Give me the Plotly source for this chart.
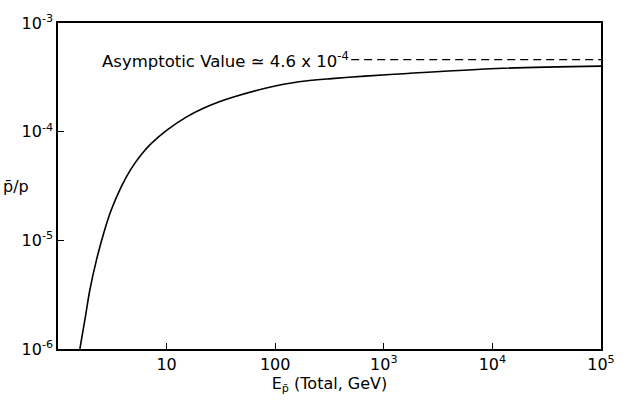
import plotly.graph_objects as go

# Curve: total antiproton energy (GeV) vs pbar/p ratio
energy_gev = [1.59, 1.770, 1.968, 2.265, 2.692, 3.097, 3.819, 4.710, 5.808, 7.161,
              10.14, 15.42, 21.83, 30.55, 40.64, 82.8, 165.2, 329.6, 671.4, 1652,
              10870, 100000]
pbar_ratio = [1.0e-6, 1.87e-6, 3.53e-6, 6.65e-6, 1.253e-5, 1.914e-5, 3.11e-5, 4.55e-5,
              6.11e-5, 7.71e-5, 1.037e-4, 1.374e-4, 1.641e-4, 1.884e-4, 2.075e-4,
              2.518e-4, 2.877e-4, 3.076e-4, 3.243e-4, 3.428e-4, 3.811e-4, 4.009e-4]

asymptote_value = 4.6e-4
asymptote_x = [501, 100000]

x_tickvals = [10, 100, 1e3, 1e4, 1e5]
x_ticktext = ["10", "100", "10<sup>3</sup>", "10<sup>4</sup>", "10<sup>5</sup>"]
y_tickvals = [1e-6, 1e-5, 1e-4, 1e-3]
y_ticktext = ["10<sup>-6</sup>", "10<sup>-5</sup>", "10<sup>-4</sup>", "10<sup>-3</sup>"]

FONT = "DejaVu Sans"

fig = go.Figure()
fig.add_trace(go.Scatter(x=energy_gev, y=pbar_ratio, mode="lines",
                         line=dict(color="black", width=1.6, shape="spline", smoothing=0.8),
                         showlegend=False, hoverinfo="skip"))
fig.add_trace(go.Scatter(x=asymptote_x, y=[asymptote_value, asymptote_value], mode="lines",
                         line=dict(color="black", width=1.3, dash="8px,5px"),
                         showlegend=False, hoverinfo="skip"))

fig.add_annotation(x=2.7, y=-3.3372, xref="x", yref="y",
                   text="Asymptotic Value \u2243 4.6 x 10<sup>-4</sup>",
                   showarrow=False, xanchor="right", yanchor="middle",
                   font=dict(family=FONT, size=16.5, color="black"))
fig.add_annotation(x=-0.078, y=0.5, xref="paper", yref="paper",
                   text="p\u0304/p", showarrow=False, xanchor="center", yanchor="middle",
                   font=dict(family=FONT, size=16, color="black"))

fig.update_xaxes(type="log", range=[0, 5], tickvals=x_tickvals, ticktext=x_ticktext,
                 ticks="inside", ticklen=6, tickwidth=1.3, tickcolor="black",
                 showline=True, linecolor="black", linewidth=1.5, mirror=True,
                 showgrid=False, zeroline=False,
                 tickfont=dict(family=FONT, size=16, color="black"),
                 title=dict(text="E<sub>p\u0304</sub> (Total, GeV)", standoff=2,
                            font=dict(family=FONT, size=16, color="black")))
fig.update_yaxes(type="log", range=[-6, -3], tickvals=y_tickvals, ticktext=y_ticktext,
                 ticks="inside", ticklen=6, tickwidth=1.3, tickcolor="black",
                 showline=True, linecolor="black", linewidth=1.5, mirror=True,
                 showgrid=False, zeroline=False,
                 tickfont=dict(family=FONT, size=16, color="black"))

fig.update_layout(width=627, height=402, margin=dict(l=58, r=20, t=22, b=53),
                  plot_bgcolor="white", paper_bgcolor="white",
                  font=dict(family=FONT, color="black"))

fig.write_html("out.html")
